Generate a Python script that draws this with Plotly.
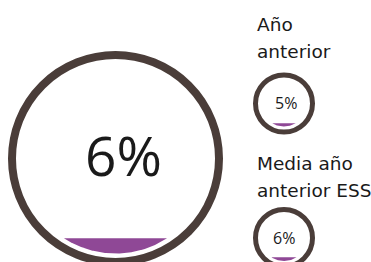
import numpy as np
import plotly.graph_objects as go

# ---- data ----
gauge_names = ["Actual", "Año anterior", "Media año anterior ESS"]
gauge_values = [6, 5, 6]          # percent
value_labels = ["6%", "5%", "6%"]
title_lines = [[], ["Año", "anterior"], ["Media año", "anterior ESS"]]

# ---- style / layout (pixels, y down) ----
W, H = 371, 262
centers = [(115.5, 158.5), (284.0, 103.5), (284.0, 238.0)]
outer_r = [107.5, 31.0, 31.0]
ring_w = [8.0, 5.0, 5.0]
fill_r = [95.0, 23.0, 23.0]
text_pos = [(123.0, 154.0), (286.3, 103.0), (284.0, 238.0)]
text_size = [55, 16, 16]
title_pos = [[], [(255, 24), (255, 51.5)], [(255, 163.5), (255, 190.5)]]
ring_color = "#4a3d39"
fill_color = "#8f4896"
wave = 0.04

fig = go.Figure()
shapes = []
annotations = []

for i, v in enumerate(gauge_values):
    cx, cy = centers[i]
    rm = outer_r[i] - ring_w[i] / 2
    shapes.append(dict(type="circle", xref="x", yref="y",
                       x0=cx - rm, x1=cx + rm, y0=cy - rm, y1=cy + rm,
                       line=dict(color=ring_color, width=ring_w[i]),
                       fillcolor="rgba(0,0,0,0)", layer="above"))
    rf = fill_r[i]
    h = v / 100.0 * 2 * rf + wave * rf
    yt = cy + rf - h
    t0 = np.arcsin(np.clip((yt - cy) / rf, -1, 1))
    t = np.linspace(t0, np.pi - t0, 120)
    xs = list(cx + rf * np.cos(t))
    ys = list(cy + rf * np.sin(t))
    xs.append(xs[0]); ys.append(ys[0])
    fig.add_trace(go.Scatter(x=xs, y=ys, mode="lines", fill="toself",
                             fillcolor=fill_color, line=dict(width=0, color=fill_color),
                             hoverinfo="skip", showlegend=False, name=gauge_names[i]))
    tx, ty = text_pos[i]
    annotations.append(dict(x=tx, y=ty, xref="x", yref="y", text=value_labels[i],
                            showarrow=False, xanchor="center", yanchor="middle",
                            font=dict(family="Open Sans", size=text_size[i], color="#1a1a1a")))
    for line, (lx, ly) in zip(title_lines[i], title_pos[i]):
        annotations.append(dict(x=lx, y=ly, xref="x", yref="y", text=line,
                                showarrow=False, xanchor="left", yanchor="middle",
                                font=dict(family="DejaVu Sans", size=18.5, color="#1a1a1a")))

fig.update_layout(
    width=W, height=H, autosize=False,
    margin=dict(l=0, r=0, t=0, b=0, pad=0),
    paper_bgcolor="white", plot_bgcolor="white",
    xaxis=dict(range=[0, W], visible=False, fixedrange=True),
    yaxis=dict(range=[H, 0], visible=False, fixedrange=True),
    shapes=shapes, annotations=annotations, showlegend=False,
)

fig.write_html("out.html", config={"displayModeBar": False, "staticPlot": True},
               post_script="document.body.style.margin='0';")
